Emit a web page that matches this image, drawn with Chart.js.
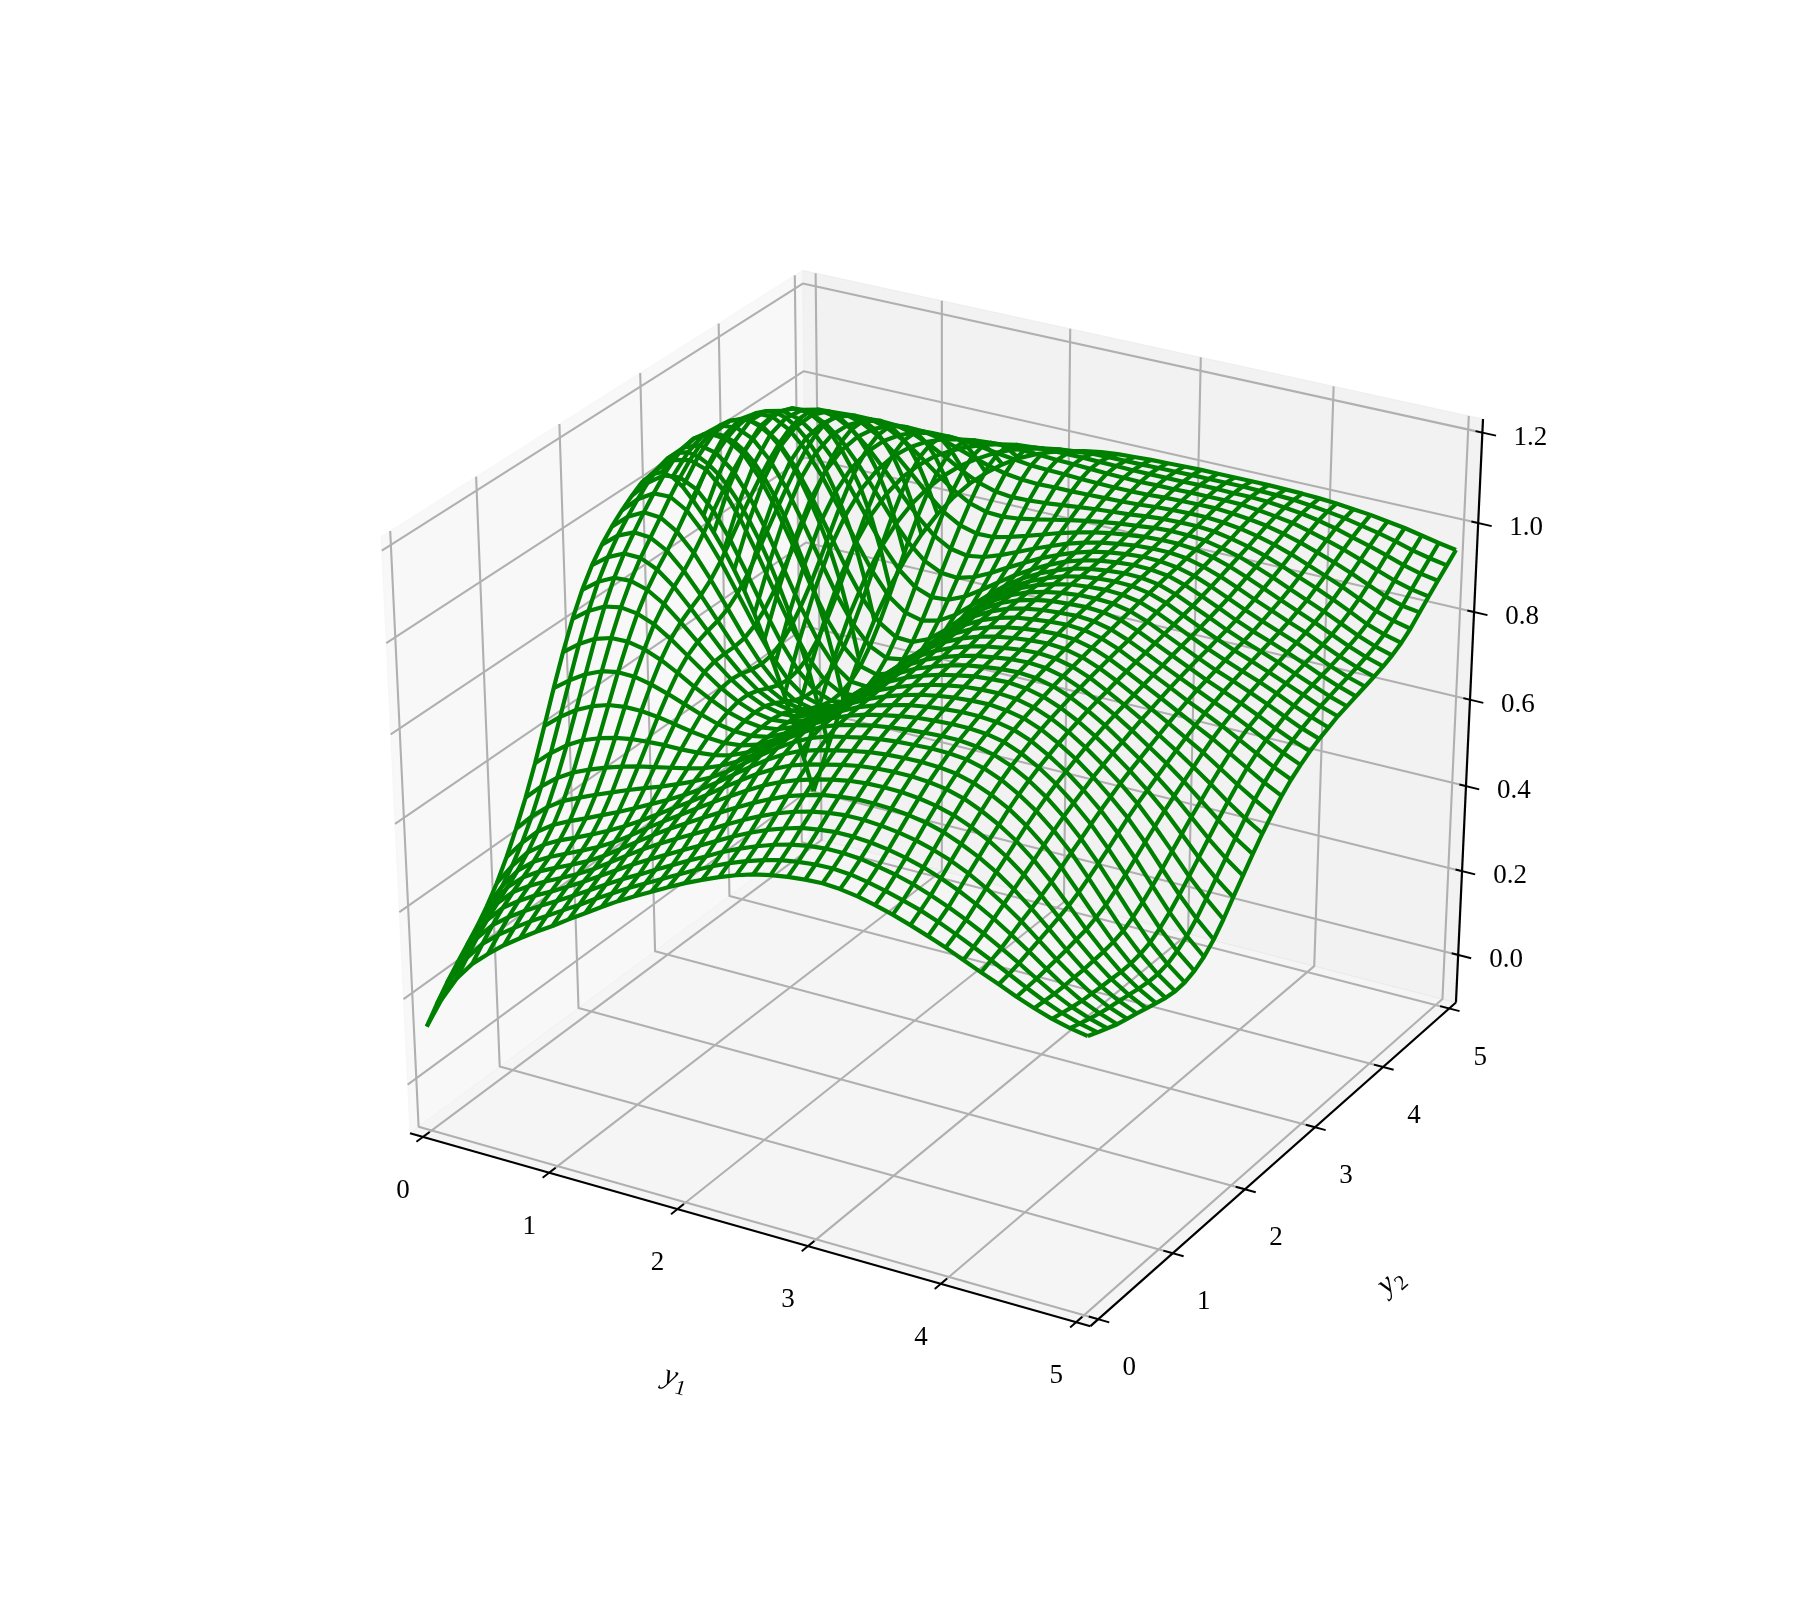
<!DOCTYPE html>
<html><head><meta charset="utf-8">
<style>html,body{margin:0;padding:0;background:#fff}canvas{display:block}</style>
<script src="https://cdn.jsdelivr.net/npm/chart.js@4/dist/chart.umd.min.js"></script>
</head><body><canvas id="c" width="1800" height="1600"></canvas>
<script>
const y1Ticks=[0,1,2,3,4,5];
const y2Ticks=[0,1,2,3,4,5];
const zTicks=[0,0.2,0.4,0.6,0.8,1.0,1.2];
const zTickLabels=['0.0','0.2','0.4','0.6','0.8','1.0','1.2'];
const y1Name='1', y2Name='2', axisLetter='y';
const zLow=-0.088, zHigh=1.203, gridMax=5;
// surface height: one row per y2 grid line, one value per y1 grid line
const zRows=[
[.130,.203,.262,.306,.339, .369,.395,.420,.443,.468, .492,.516,.539,.560,.580, .600,.619,.636,.652,.666, .678,.686,.692,.696,.698, .695,.689,.680,.669,.656, .642,.627,.610,.593,.577, .560,.545,.532,.522,.515],
[.164,.234,.292,.334,.365, .391,.416,.438,.461,.483, .507,.529,.551,.571,.591, .611,.631,.649,.666,.680, .692,.702,.708,.712,.713, .710,.703,.694,.683,.671, .656,.639,.621,.602,.582, .562,.543,.527,.514,.505],
[.195,.264,.320,.360,.388, .412,.434,.455,.477,.499, .522,.544,.564,.585,.605, .625,.644,.664,.681,.696, .709,.719,.726,.730,.730, .727,.720,.712,.701,.687, .671,.653,.633,.611,.588, .564,.541,.522,.507,.496],
[.222,.290,.344,.382,.408, .430,.449,.470,.491,.514, .537,.560,.581,.601,.621, .641,.661,.681,.699,.715, .728,.739,.745,.749,.749, .746,.740,.732,.721,.707, .690,.670,.648,.623,.596, .568,.541,.518,.501,.487],
[.248,.313,.365,.401,.425, .445,.463,.482,.503,.528, .553,.577,.599,.620,.640, .660,.681,.701,.719,.735, .748,.758,.765,.769,.769, .766,.761,.753,.742,.728, .710,.688,.663,.635,.603, .571,.542,.516,.496,.481],
[.274,.335,.385,.418,.441, .459,.476,.494,.516,.541, .567,.592,.616,.638,.660, .681,.702,.722,.740,.756, .768,.778,.784,.788,.788, .786,.782,.775,.764,.748, .729,.706,.678,.646,.611, .575,.542,.514,.492,.475],
[.304,.360,.406,.436,.457, .474,.491,.509,.530,.555, .581,.606,.630,.654,.678, .701,.723,.744,.761,.775, .786,.795,.802,.806,.807, .806,.802,.795,.784,.768, .748,.723,.693,.657,.619, .580,.544,.513,.488,.468],
[.340,.390,.431,.458,.478, .494,.511,.529,.549,.571, .595,.619,.643,.668,.694, .719,.743,.764,.781,.793, .802,.811,.818,.822,.824, .824,.821,.815,.804,.787, .766,.740,.708,.670,.628, .585,.546,.511,.484,.462],
[.383,.426,.462,.487,.505, .521,.538,.555,.573,.592, .611,.632,.654,.679,.706, .733,.758,.780,.797,.808, .817,.825,.832,.836,.838, .839,.837,.832,.821,.805, .784,.757,.724,.685,.640, .594,.550,.512,.481,.456],
[.432,.470,.501,.525,.542, .558,.573,.588,.602,.615, .630,.646,.664,.687,.714, .742,.768,.791,.809,.822, .830,.838,.844,.848,.850, .852,.851,.847,.837,.821, .799,.772,.739,.700,.654, .605,.557,.516,.481,.453],
[.487,.522,.551,.573,.589, .603,.615,.625,.633,.641, .649,.659,.674,.693,.718, .746,.773,.797,.817,.831, .840,.848,.854,.858,.861, .863,.863,.859,.850,.835, .813,.786,.753,.714,.669, .620,.570,.524,.486,.455],
[.549,.582,.609,.630,.644, .654,.661,.664,.666,.666, .668,.672,.681,.697,.719, .746,.773,.799,.820,.835, .847,.855,.862,.868,.871, .873,.873,.870,.862,.846, .825,.798,.766,.729,.685, .637,.586,.538,.497,.463],
[.618,.648,.673,.691,.703, .708,.708,.704,.697,.690, .685,.683,.687,.698,.718, .743,.771,.798,.820,.838, .851,.861,.870,.876,.880, .883,.883,.880,.872,.857, .835,.809,.778,.743,.702, .656,.605,.556,.513,.477],
[.688,.715,.738,.754,.761, .760,.752,.740,.726,.712, .700,.693,.692,.699,.716, .739,.768,.796,.821,.840, .855,.867,.877,.884,.889, .892,.893,.889,.881,.866, .845,.820,.790,.756,.719, .675,.626,.578,.535,.498],
[.754,.781,.802,.813,.814, .806,.791,.771,.749,.729, .711,.700,.695,.700,.715, .737,.766,.796,.822,.843, .859,.872,.883,.891,.897, .900,.901,.898,.889,.874, .854,.829,.800,.769,.734, .693,.648,.602,.562,.526],
[.813,.840,.859,.866,.861, .846,.822,.794,.766,.739, .718,.703,.696,.700,.713, .736,.765,.796,.824,.846, .864,.878,.889,.897,.904, .907,.909,.905,.896,.881, .861,.837,.810,.780,.747, .711,.669,.627,.590,.558],
[.863,.890,.908,.910,.899, .876,.844,.809,.774,.743, .718,.701,.693,.696,.711, .735,.765,.796,.825,.849, .868,.882,.894,.903,.909, .913,.915,.912,.903,.888, .868,.845,.818,.790,.760, .727,.690,.652,.618,.589],
[.903,.930,.947,.946,.929, .899,.860,.818,.776,.740, .711,.692,.684,.688,.705, .731,.763,.796,.827,.852, .872,.887,.899,.908,.914, .919,.921,.918,.909,.893, .874,.852,.827,.800,.773, .743,.710,.677,.646,.620],
[.934,.963,.979,.976,.955, .919,.874,.825,.776,.733, .700,.679,.671,.677,.696, .726,.760,.795,.827,.855, .876,.892,.904,.913,.919, .924,.926,.923,.914,.899, .879,.858,.835,.810,.785, .758,.730,.700,.673,.649],
[.959,.990,1.009,1.006,.983, .944,.893,.837,.780,.730, .691,.666,.657,.665,.687, .719,.756,.793,.828,.857, .880,.897,.910,.919,.925, .929,.931,.928,.919,.904, .885,.864,.842,.820,.797, .774,.748,.722,.698,.675],
[.980,1.014,1.036,1.037,1.015, .974,.919,.856,.792,.734, .688,.658,.647,.654,.678, .713,.752,.791,.827,.858, .883,.902,.915,.924,.930, .934,.936,.933,.924,.909, .890,.870,.850,.829,.808, .788,.765,.742,.719,.699],
[.998,1.036,1.061,1.065,1.047, 1.008,.951,.883,.812,.747, .693,.657,.642,.647,.671, .707,.747,.789,.827,.860, .886,.906,.920,.930,.935, .939,.941,.938,.929,.914, .895,.876,.857,.837,.819, .800,.779,.758,.737,.719],
[1.013,1.052,1.081,1.089,1.076, 1.039,.984,.915,.840,.768, .707,.665,.644,.646,.667, .703,.744,.787,.827,.862, .890,.910,.925,.934,.940, .943,.945,.942,.933,.918, .900,.881,.863,.845,.827, .810,.791,.771,.752,.735],
[1.017,1.061,1.094,1.107,1.098, 1.067,1.016,.949,.873,.797, .731,.682,.654,.651,.669, .702,.744,.788,.829,.864, .892,.913,.928,.938,.944, .947,.949,.946,.938,.923, .905,.887,.869,.851,.835, .818,.800,.781,.764,.749],
[1.007,1.059,1.099,1.118,1.115, 1.091,1.045,.983,.909,.832, .762,.708,.673,.663,.676, .705,.745,.789,.830,.866, .894,.915,.930,.940,.947, .951,.952,.950,.942,.928, .910,.892,.874,.857,.842, .826,.809,.791,.774,.760],
[.981,1.045,1.094,1.122,1.126, 1.109,1.071,1.016,.947,.873, .802,.743,.703,.685,.691, .714,.750,.791,.831,.866, .894,.915,.931,.942,.950, .954,.956,.954,.947,.933, .915,.897,.879,.863,.848, .833,.817,.799,.783,.769],
[.944,1.021,1.082,1.118,1.131, 1.122,1.093,1.046,.985,.916, .847,.786,.741,.717,.715, .731,.761,.797,.834,.867, .894,.915,.931,.944,.952, .957,.959,.958,.951,.938, .920,.902,.885,.869,.854, .839,.823,.807,.791,.778],
[.898,.989,1.061,1.107,1.129, 1.129,1.109,1.072,1.020,.958, .893,.833,.785,.757,.748, .757,.779,.810,.842,.872, .897,.917,.933,.946,.954, .959,.962,.961,.955,.942, .925,.908,.890,.874,.860, .845,.829,.813,.797,.784],
[.849,.951,1.033,1.089,1.119, 1.128,1.118,1.091,1.049,.996, .937,.879,.832,.800,.786, .789,.805,.829,.855,.880, .902,.921,.937,.949,.957, .962,.965,.964,.959,.947, .931,.914,.896,.880,.866, .851,.835,.818,.803,.790],
[.795,.907,.998,1.062,1.101, 1.119,1.119,1.102,1.071,1.027, .976,.924,.878,.844,.826, .823,.834,.852,.873,.893, .912,.928,.942,.953,.960, .965,.968,.967,.962,.952, .937,.920,.903,.887,.872, .857,.840,.823,.808,.796],
[.739,.857,.956,1.028,1.075, 1.101,1.110,1.103,1.083,1.050, 1.009,.964,.921,.886,.865, .858,.864,.877,.893,.909, .924,.938,.949,.958,.964, .969,.971,.971,.967,.957, .944,.928,.911,.895,.879, .864,.846,.829,.814,.802],
[.678,.801,.907,.987,1.041, 1.075,1.092,1.094,1.084,1.063, 1.032,.996,.958,.925,.903, .893,.894,.903,.914,.926, .938,.948,.957,.964,.969, .973,.975,.975,.971,.963, .951,.936,.920,.903,.887, .871,.853,.836,.821,.809],
[.614,.740,.851,.938,1.000, 1.041,1.066,1.076,1.076,1.065, 1.045,1.018,.988,.960,.938, .927,.925,.929,.936,.944, .952,.959,.965,.970,.974, .978,.980,.979,.976,.968, .958,.944,.929,.912,.896, .880,.862,.844,.829,.818],
[.544,.673,.789,.882,.952, 1.001,1.032,1.050,1.058,1.056, 1.046,1.029,1.009,.987,.969, .958,.954,.955,.958,.962, .966,.970,.973,.976,.980, .983,.984,.984,.981,.974, .965,.953,.939,.923,.908, .891,.873,.854,.840,.830],
[.468,.601,.720,.819,.896, .952,.991,1.017,1.032,1.038, 1.037,1.030,1.018,1.005,.993, .984,.979,.977,.978,.978, .979,.980,.981,.983,.986, .988,.989,.989,.986,.981, .973,.963,.950,.935,.920, .904,.886,.868,.855,.846],
[.388,.524,.647,.751,.833, .896,.942,.975,.997,1.011, 1.018,1.019,1.017,1.012,1.006, 1.001,.996,.994,.993,.991, .990,.989,.989,.990,.992, .993,.994,.994,.991,.987, .981,.972,.961,.948,.934, .919,.902,.885,.873,.867],
[.303,.442,.569,.677,.763, .832,.885,.925,.954,.975, .989,.998,1.004,1.007,1.007, 1.006,1.004,1.002,1.001,.999, .997,.996,.995,.996,.996, .997,.997,.997,.996,.992, .987,.981,.971,.960,.948, .934,.919,.905,.894,.887],
[.212,.353,.481,.591,.682, .757,.816,.863,.899,.928, .949,.966,.979,.989,.996, .999,1.001,1.001,1.001,1.000, .999,.998,.998,.998,.998, .999,.999,.998,.998,.996, .992,.987,.980,.971,.960, .949,.937,.924,.914,.907],
[.116,.251,.377,.489,.584, .665,.732,.787,.832,.869, .900,.924,.945,.961,.973, .982,.988,.992,.995,.996, .996,.996,.997,.997,.998, .998,.998,.998,.997,.996, .994,.990,.985,.979,.971, .963,.953,.942,.933,.926],
[.020,.142,.260,.371,.471, .559,.635,.700,.756,.804, .844,.877,.905,.928,.945, .959,.969,.978,.984,.988, .990,.992,.993,.994,.995, .995,.995,.995,.995,.994, .993,.991,.988,.984,.980, .974,.968,.960,.952,.945]
];

// view: elevation 30, azimuth -60, distance 10, unit cube with a 1/48 pad
const PAD=1/48, LO=-PAD, HI=1+PAD, DIST=10;
const cE=Math.cos(Math.PI/6), sE=0.5, cA=0.5, sA=-Math.sqrt(3)/2;
const N=[cE*cA,cE*sA,sE], U=[-sA,cA,0];
const V=[N[1]*U[2]-N[2]*U[1],N[2]*U[0]-N[0]*U[2],N[0]*U[1]-N[1]*U[0]];
const dot=(a,b)=>a[0]*b[0]+a[1]*b[1]+a[2]*b[2];
function proj(u,w,h){const p=[u-.5,w-.5,h-.5];const d=DIST-dot(p,N);return {x:dot(p,U)/d,y:dot(p,V)/d};}
const ux=v=>v/gridMax, uz=v=>(v-zLow)/(zHigh-zLow);
const SX=7540,SY=6535,CX=941.4,CY=779.5;
const xMin=-CX/SX,xMax=(1800-CX)/SX,yMax=CY/SY,yMin=(CY-1600)/SY;
const datasets=[];
function line(pts,color,width,order,fill){datasets.push({data:pts,showLine:true,borderColor:color,backgroundColor:fill||color,borderWidth:width,pointRadius:0,pointHoverRadius:0,tension:0,order,fill:fill?'shape':false,borderJoinStyle:'round',clip:false});}
const pane=(a,col)=>line(a.map(q=>proj(...q)),col,1,9,col);
pane([[LO,LO,LO],[LO,HI,LO],[LO,HI,HI],[LO,LO,HI],[LO,LO,LO]],'rgba(242,242,242,0.5)');
pane([[LO,HI,LO],[HI,HI,LO],[HI,HI,HI],[LO,HI,HI],[LO,HI,LO]],'rgba(230,230,230,0.5)');
pane([[LO,LO,LO],[HI,LO,LO],[HI,HI,LO],[LO,HI,LO],[LO,LO,LO]],'rgba(236,236,236,0.5)');
const GRID='#b0b0b0',GW=2.1;
y1Ticks.forEach(t=>{const u=ux(t);line([[u,LO,LO],[u,HI,LO],[u,HI,HI]].map(q=>proj(...q)),GRID,GW,8);});
y2Ticks.forEach(t=>{const w=ux(t);line([[HI,w,LO],[LO,w,LO],[LO,w,HI]].map(q=>proj(...q)),GRID,GW,8);});
zTicks.forEach(t=>{const h=uz(t);line([[LO,LO,h],[LO,HI,h],[HI,HI,h]].map(q=>proj(...q)),GRID,GW,8);});
const AK='#000',AW=2.2,TW=1.9;
line([[LO,LO,LO],[HI,LO,LO]].map(q=>proj(...q)),AK,AW,7);
line([[HI,LO,LO],[HI,HI,LO]].map(q=>proj(...q)),AK,AW,7);
line([[HI,HI,LO],[HI,HI,HI]].map(q=>proj(...q)),AK,AW,7);
y1Ticks.forEach(t=>{const u=ux(t);line([[u,LO+.016,LO],[u,LO-.016,LO]].map(q=>proj(...q)),AK,TW,7);});
y2Ticks.forEach(t=>{const w=ux(t);line([[HI-.014,w,LO],[HI+.016,w,LO]].map(q=>proj(...q)),AK,TW,7);});
zTicks.forEach(t=>{const h=uz(t);line([[HI-.01,HI,h],[HI+.02,HI,h]].map(q=>proj(...q)),AK,TW,7);});
const nGrid=zRows.length;
const WIRE='#008000',WW=4.2;
for(let j=0;j<nGrid;j++){line(zRows[j].map((z,i)=>proj(i/(nGrid-1),j/(nGrid-1),uz(z))),WIRE,WW,1);}
for(let i=0;i<nGrid;i++){line(zRows.map((r,j)=>proj(i/(nGrid-1),j/(nGrid-1),uz(r[i]))),WIRE,WW,1);}
const FONT='"Liberation Serif", serif';
const labelPlugin={id:'labels3d',afterDatasetsDraw(chart){
 const {ctx,scales:{x,y}}=chart;
 const at=q=>{const p=proj(...q);return [x.getPixelForValue(p.x),y.getPixelForValue(p.y)];};
 ctx.save();ctx.fillStyle='#000';ctx.textAlign='center';ctx.textBaseline='middle';ctx.font='27px '+FONT;
 y1Ticks.forEach(t=>{const [a,b]=at([ux(t),LO,LO]);ctx.fillText(String(t),a-20,b+54);});
 y2Ticks.forEach(t=>{const [a,b]=at([HI,ux(t),LO]);ctx.fillText(String(t),a+31,b+49);});
 zTicks.forEach((t,k)=>{const [a,b]=at([HI,HI,uz(t)]);ctx.fillText(zTickLabels[k],a+48,b+5);});
 const sub=(px,py,rot,s)=>{ctx.save();ctx.translate(px,py);ctx.rotate(rot);ctx.textAlign='left';ctx.font='italic 30px '+FONT;ctx.fillText(axisLetter,-15,-2);ctx.font='21px '+FONT;ctx.fillText(s,-1,7);ctx.restore();};
 sub(678,1381,16*Math.PI/180,y1Name);
 sub(1394,1281,-41*Math.PI/180,y2Name);
 ctx.restore();
}};
new Chart(document.getElementById('c'),{type:'scatter',data:{datasets},plugins:[labelPlugin],options:{
 responsive:false,animation:false,devicePixelRatio:1,layout:{padding:0},
 plugins:{legend:{display:false},title:{display:false},tooltip:{enabled:false}},
 scales:{x:{type:'linear',min:xMin,max:xMax,display:false},y:{type:'linear',min:yMin,max:yMax,display:false}}
}});
</script></body></html>
